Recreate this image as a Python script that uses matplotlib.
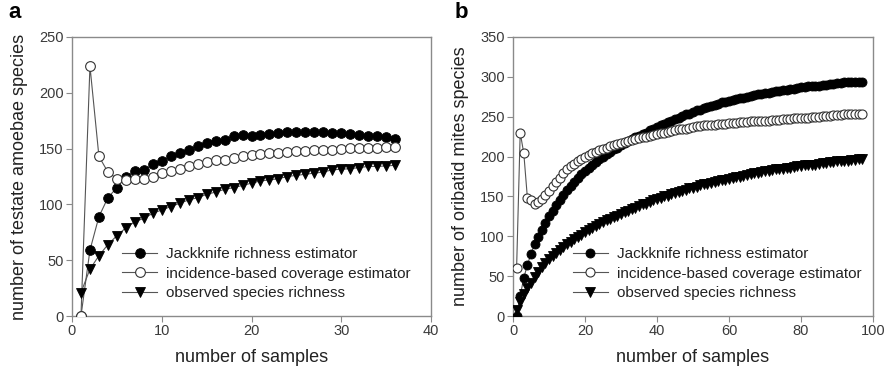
import matplotlib
matplotlib.use("Agg")
import matplotlib.pyplot as plt
import numpy as np

plt.rcParams['font.family'] = ['Liberation Sans', 'DejaVu Sans']

# ---- Panel a: testate amoebae ----
samples_a = list(range(1, 37))
jack_a = [0, 59, 89, 106, 115, 125, 130, 131, 136, 139, 143, 146, 149, 152, 155, 157, 158, 161,
          162, 161, 162, 163, 164, 164.5, 165, 164.5, 164.5, 164.5, 164, 164, 163, 162, 161, 161, 160, 159]
ice_a = [0, 224, 143, 129, 123, 122, 123, 123, 125, 128, 130, 132, 134, 136, 138, 140, 140, 142,
         143, 144, 145, 146, 146.5, 147, 148, 148, 149, 149, 149, 150, 150.5, 150.5, 150.5, 150.5, 151, 151]
obs_a = [21, 42, 54, 64, 72, 79, 84.5, 87.5, 92, 95, 98, 101, 104, 106, 109, 111, 113.5, 115,
         117, 119, 121, 122, 123, 125, 126, 127, 128, 129, 131, 131.5, 132, 133, 134, 134, 134.5, 135]

# ---- Panel b: oribatid mites ----
samples_b = list(range(1, 98))
jack_b = [0, 25, 48, 64, 78, 90, 99, 108, 117, 125, 132, 139, 146, 152, 158, 163, 168, 173, 178, 182,
          186, 190, 193, 197, 200, 203, 206, 209, 211, 214, 217, 219, 222, 224, 226, 228, 230, 233, 235, 237,
          239, 241, 243, 245, 247, 249, 251, 253, 254, 256, 258, 259, 261, 262, 264, 265, 266, 268, 269, 270,
          271, 272, 273, 274, 275, 276, 277, 278, 279, 280, 280, 281, 282, 282, 283, 284, 285, 285, 286, 287,
          287, 288, 288, 289, 289, 290, 290, 291, 291, 292, 292, 293, 293, 293, 294, 294, 294]
ice_b = [60, 230, 204, 148, 145, 141, 143, 147, 152, 157, 163, 168, 173, 179, 184, 188, 191, 194, 197, 200,
         202, 204, 206, 208, 209, 211, 213, 214, 216, 217, 218, 219, 221, 222, 223, 224, 225, 226, 227, 228,
         229, 230, 231, 232, 233, 234, 235, 235, 236, 237, 238, 238, 239, 239, 240, 240, 241, 241, 241, 242,
         242, 242, 243, 243, 243, 244, 244, 244, 245, 245, 245, 246, 246, 246, 247, 247, 247, 248, 248, 249,
         249, 249, 250, 250, 250, 251, 251, 251, 252, 252, 252, 253, 253, 253, 253, 254, 254]
obs_b = [8, 18, 27, 35, 42, 49, 55, 61, 66, 71, 75, 79, 83, 87, 90, 93, 96, 99, 102, 105,
         108, 110, 113, 115, 118, 120, 122, 124, 126, 128, 130, 132, 134, 136, 138, 140, 141, 143, 145, 147,
         148, 150, 151, 153, 154, 156, 157, 158, 160, 161, 162, 164, 165, 166, 167, 168, 169, 170, 171, 172,
         173, 174, 175, 176, 177, 178, 179, 180, 181, 182, 182, 183, 184, 184, 185, 186, 186, 187, 188, 188,
         189, 189, 190, 190, 191, 192, 192, 193, 193, 194, 194, 195, 195, 196, 196, 197, 197]

labels = ["Jackknife richness estimator", "incidence-based coverage estimator", "observed species richness"]

fig = plt.figure(figsize=(8.9, 3.73), dpi=100)
ax_a = fig.add_axes([72/890, 1-316/373, (431-72)/890, (316-37)/373])
ax_b = fig.add_axes([513/890, 1-316/373, (873-513)/890, (316-37)/373])

spine_c = '#8a8a8a'
line_c = '#555555'
text_c = '#3a3a3a'

def style(ax):
    for s in ax.spines.values():
        s.set_color(spine_c)
        s.set_linewidth(1.0)
    ax.tick_params(direction='out', length=4, width=0.8, color=spine_c,
                   labelsize=10.5, labelcolor=text_c, pad=2)

def draw(ax, x, jack, ice, obs, ms):
    ax.plot(x, jack, '-', color=line_c, lw=0.8, marker='o', ms=ms, mfc='black', mec='black',
            mew=0.6, label=labels[0], zorder=3)
    ax.plot(x, ice, '-', color=line_c, lw=0.8, marker='o', ms=ms, mfc='white', mec='#333333',
            mew=0.8, label=labels[1], zorder=3)
    ax.plot(x, obs, '-', color=line_c, lw=0.8, marker='v', ms=ms, mfc='black', mec='black',
            mew=0.6, label=labels[2], zorder=3)

draw(ax_a, samples_a, jack_a, ice_a, obs_a, 7)
ax_a.set_xlim(0, 40)
ax_a.set_ylim(0, 250)
ax_a.set_xticks([0, 10, 20, 30, 40])
ax_a.set_yticks([0, 50, 100, 150, 200, 250])
style(ax_a)
ax_a.set_xlabel("number of samples", fontsize=13, color='#222222', labelpad=8)
ax_a.set_ylabel("number of testate amoebae species", fontsize=13, color='#222222', labelpad=8)
ax_a.legend(loc='lower left', bbox_to_anchor=(0.118, 0.03), frameon=False, fontsize=11,
            handlelength=2.3, handletextpad=0.6, labelspacing=0.35, borderpad=0,
            labelcolor='#222222')

draw(ax_b, samples_b, jack_b, ice_b, obs_b, 6.5)
ax_b.set_xlim(0, 100)
ax_b.set_ylim(0, 350)
ax_b.set_xticks([0, 20, 40, 60, 80, 100])
ax_b.set_yticks([0, 50, 100, 150, 200, 250, 300, 350])
style(ax_b)
ax_b.set_xlabel("number of samples", fontsize=13, color='#222222', labelpad=8)
ax_b.set_ylabel("number of oribatid mites species", fontsize=13, color='#222222', labelpad=8)
ax_b.legend(loc='lower left', bbox_to_anchor=(0.145, 0.03), frameon=False, fontsize=11,
            handlelength=2.3, handletextpad=0.6, labelspacing=0.35, borderpad=0,
            labelcolor='#222222')

fig.text(8/890, 1-12/373, "a", fontsize=16, fontweight='bold', va='center', ha='left')
fig.text(455/890, 1-12/373, "b", fontsize=16, fontweight='bold', va='center', ha='left')

fig.savefig("out.png", dpi=100)
